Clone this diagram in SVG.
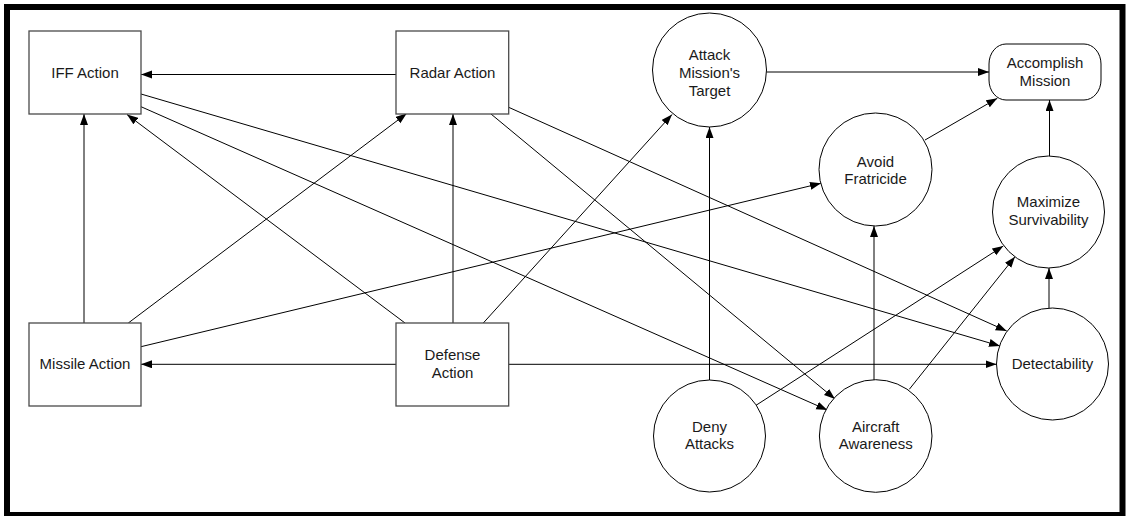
<svg xmlns="http://www.w3.org/2000/svg" width="1126" height="516" viewBox="0 0 1126 516">
  <style>
    .frame { fill: #ffffff; stroke: #000000; stroke-width: 6; }
    .box { fill: #ffffff; stroke: #4a4a4a; stroke-width: 1.3; }
    .circ { fill: #ffffff; stroke: #000000; stroke-width: 1; }
    .edge { fill: none; stroke: #000000; stroke-width: 1; marker-end: url(#arrow); }
    text { font-family: "Liberation Sans", Arial, sans-serif; font-size: 15px; fill: #1a1a1a; text-anchor: middle; }
  </style>
  <defs>
    <marker id="arrow" markerUnits="userSpaceOnUse" markerWidth="12" markerHeight="9" refX="11" refY="4" orient="auto">
      <path d="M0,0 L11,4 L0,8 Z" fill="#000000"/>
    </marker>
  </defs>

  <!-- outer frame -->
  <rect class="frame" x="7" y="7" width="1115.5" height="508"/>

  <!-- connectors -->
  <g id="connectors">
    <line class="edge" x1="396" y1="74.5" x2="141" y2="74.5"/>
    <line class="edge" x1="84" y1="323" x2="84" y2="114"/>
    <line class="edge" x1="405" y1="323" x2="127" y2="114.5"/>
    <line class="edge" x1="128.3" y1="323" x2="406.7" y2="113.5"/>
    <line class="edge" x1="453" y1="323" x2="453" y2="114"/>
    <line class="edge" x1="483.3" y1="323" x2="672" y2="114.5"/>
    <line class="edge" x1="141" y1="94" x2="1000" y2="346"/>
    <line class="edge" x1="508.7" y1="107.3" x2="1006.7" y2="331"/>
    <line class="edge" x1="141" y1="106.7" x2="827.3" y2="410"/>
    <line class="edge" x1="491" y1="114" x2="835" y2="399"/>
    <line class="edge" x1="141" y1="346.7" x2="821" y2="183.3"/>
    <line class="edge" x1="396" y1="364.3" x2="141" y2="364.3"/>
    <line class="edge" x1="508.7" y1="364.3" x2="996.5" y2="364.3"/>
    <line class="edge" x1="709.5" y1="380" x2="709.5" y2="127"/>
    <line class="edge" x1="756" y1="405.3" x2="1003.3" y2="246"/>
    <line class="edge" x1="874" y1="380" x2="874" y2="226"/>
    <line class="edge" x1="909.3" y1="389.3" x2="1015" y2="256.7"/>
    <line class="edge" x1="925" y1="140" x2="997.3" y2="98.3"/>
    <line class="edge" x1="1049.5" y1="156" x2="1049.5" y2="100"/>
    <line class="edge" x1="1049" y1="308" x2="1049" y2="268"/>
    <line class="edge" x1="766.5" y1="72" x2="989" y2="72"/>
  </g>

  <!-- action nodes -->
  <g id="iff-action">
    <rect class="box" x="29" y="31" width="112" height="83"/>
    <text x="85" y="77.5">IFF Action</text>
  </g>
  <g id="radar-action">
    <rect class="box" x="396" y="31" width="112.7" height="83"/>
    <text x="452.5" y="77.5">Radar Action</text>
  </g>
  <g id="missile-action">
    <rect class="box" x="29" y="323" width="112" height="83"/>
    <text x="85" y="369">Missile Action</text>
  </g>
  <g id="defense-action">
    <rect class="box" x="396" y="323" width="112.7" height="83"/>
    <text x="452.5" y="360">Defense</text>
    <text x="452.5" y="377.7">Action</text>
  </g>

  <!-- goal nodes -->
  <g id="attack-target">
    <circle class="circ" cx="709.5" cy="70" r="57"/>
    <text x="709.5" y="59.5">Attack</text>
    <text x="709.5" y="77.5">Mission's</text>
    <text x="709.5" y="95.5">Target</text>
  </g>
  <g id="accomplish-mission">
    <rect class="circ" x="989" y="44" width="112" height="56" rx="17" ry="20"/>
    <text x="1045" y="68.3">Accomplish</text>
    <text x="1045" y="86">Mission</text>
  </g>
  <g id="avoid-fratricide">
    <circle class="circ" cx="875.5" cy="169.5" r="56.5"/>
    <text x="875.5" y="166.7">Avoid</text>
    <text x="875.5" y="184">Fratricide</text>
  </g>
  <g id="maximize-survivability">
    <circle class="circ" cx="1048.5" cy="212" r="56"/>
    <text x="1048.5" y="207.3">Maximize</text>
    <text x="1048.5" y="225">Survivability</text>
  </g>
  <g id="detectability">
    <circle class="circ" cx="1052.5" cy="364" r="56"/>
    <text x="1052.5" y="369">Detectability</text>
  </g>
  <g id="deny-attacks">
    <circle class="circ" cx="709.5" cy="436" r="56"/>
    <text x="709.5" y="431.7">Deny</text>
    <text x="709.5" y="449">Attacks</text>
  </g>
  <g id="aircraft-awareness">
    <circle class="circ" cx="875.7" cy="436" r="56.3"/>
    <text x="875.7" y="431.7">Aircraft</text>
    <text x="875.7" y="449">Awareness</text>
  </g>
</svg>
